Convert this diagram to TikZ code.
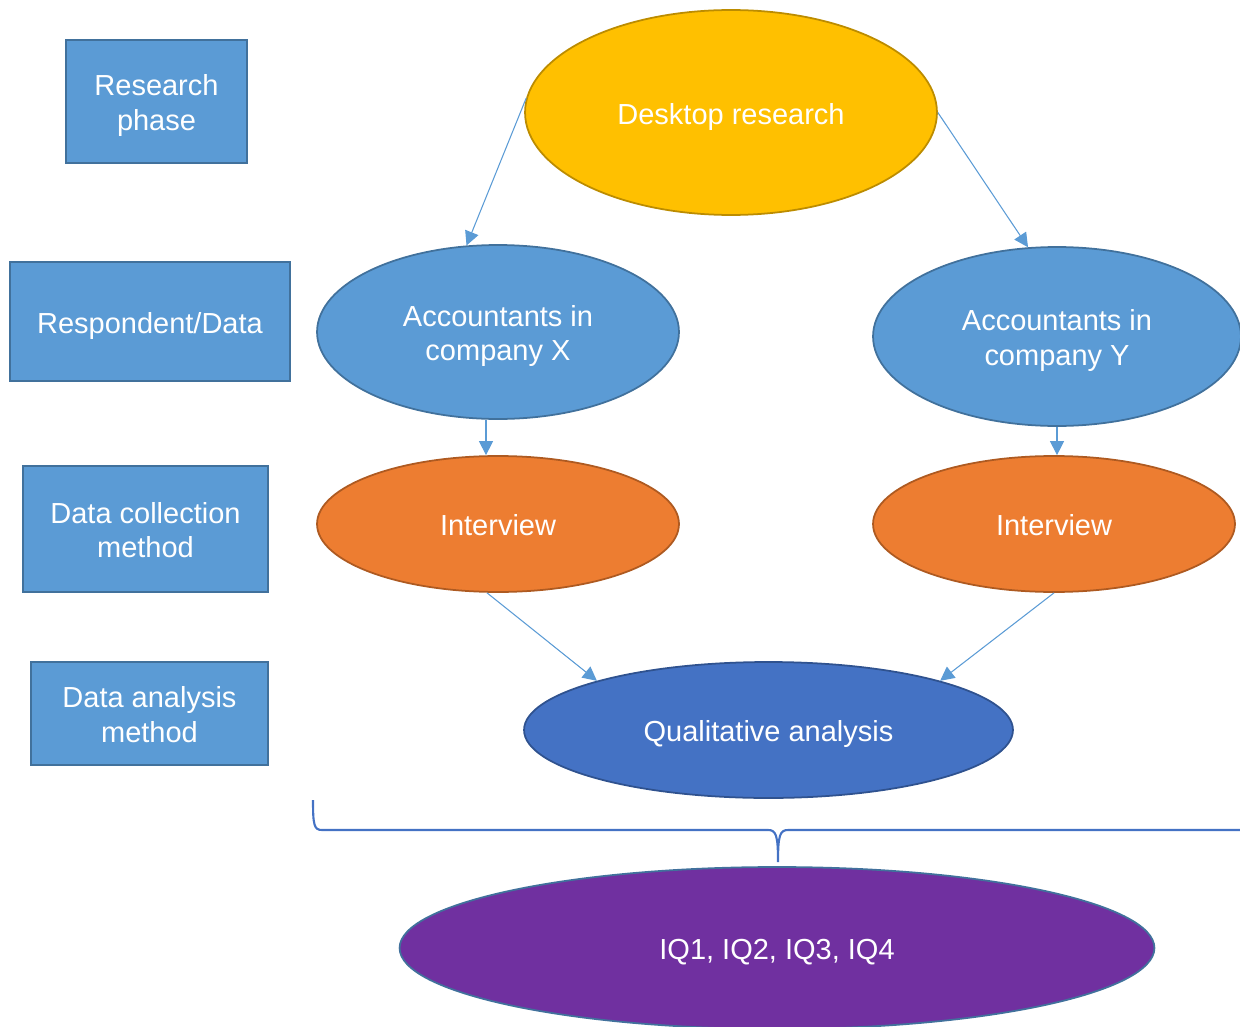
\documentclass[tikz,border=0pt]{standalone}
\usepackage{fontspec}
\setmainfont{Liberation Sans}
\usetikzlibrary{shapes.geometric,arrows.meta}
\definecolor{boxblue}{HTML}{5B9BD5}
\definecolor{boxedge}{HTML}{41719C}
\definecolor{deskfill}{HTML}{FFC000}
\definecolor{deskedge}{HTML}{BC8C00}
\definecolor{intfill}{HTML}{ED7D31}
\definecolor{intedge}{HTML}{AE5A21}
\definecolor{qualfill}{HTML}{4472C4}
\definecolor{qualedge}{HTML}{2F528F}
\definecolor{iqfill}{HTML}{7030A0}
% struts so that text sits as in the original slide
\newcommand{\topstrut}{\rule[-4pt]{0pt}{21.1pt}}
\newcommand{\botstrut}{\rule[-4pt]{0pt}{4pt}}
\begin{document}
\begin{tikzpicture}[x=0.02cm, y=-0.02cm,
  every node/.style={text=white, align=center, inner sep=0pt,
    font=\fontsize{16.5}{19.5}\selectfont},
  oneline/.style={execute at begin node={\rule[-4pt]{0pt}{21.6pt}}},
  phase/.style={rectangle, draw=boxedge, fill=boxblue, line width=1pt},
  blob/.style={ellipse, line width=1pt},
  flow/.style={boxblue, line width=0.6pt, -{Triangle[length=8pt,width=8pt]}}]
  \useasboundingbox (0, 0) rectangle (1240, 1027);
  % phase labels on the left
  \node [phase, minimum width=3.62cm, minimum height=2.46cm] (resph) at (156.5, 101.5) {\topstrut Research\\phase\botstrut};
  \node [phase, oneline, minimum width=5.6cm, minimum height=2.38cm] (respd) at (150, 321.5) {Respondent/Data};
  \node [phase, minimum width=4.9cm, minimum height=2.52cm] (colm) at (145.5, 529) {\topstrut Data collection\\method\botstrut};
  \node [phase, minimum width=4.74cm, minimum height=2.06cm] (anam) at (149.5, 713.5) {\topstrut Data analysis\\method\botstrut};
  % flow
  \node [blob, oneline, draw=deskedge, fill=deskfill, minimum width=8.24cm, minimum height=4.1cm] (desk) at (731, 112.5) {Desktop research};
  \node [blob, draw=boxedge, fill=boxblue, minimum width=7.24cm, minimum height=3.48cm] (accX) at (498, 332) {\topstrut Accountants in\\company X\botstrut};
  \node [blob, draw=boxedge, fill=boxblue, minimum width=7.36cm, minimum height=3.58cm] (accY) at (1057, 336.5) {\topstrut Accountants in\\company Y\botstrut};
  \node [blob, oneline, draw=intedge, fill=intfill, minimum width=7.24cm, minimum height=2.72cm] (intX) at (498, 524) {Interview};
  \node [blob, oneline, draw=intedge, fill=intfill, minimum width=7.24cm, minimum height=2.72cm] (intY) at (1054, 524) {Interview};
  \node [blob, oneline, draw=qualedge, fill=qualfill, minimum width=9.78cm, minimum height=2.72cm] (qual) at (768.5, 730) {Qualitative analysis};
  \node [blob, oneline, draw=boxedge, fill=iqfill, minimum width=15.1cm, minimum height=3.24cm] (iq) at (777, 948) {IQ1, IQ2, IQ3, IQ4};
  \draw [flow] (desk.176) -- (accX.110);
  \draw [flow] (desk.east) -- (accY.108);
  \draw [flow] ([xshift=-0.24cm]accX.south) -- ([xshift=-0.24cm]accX.south |- intX.north);
  \draw [flow] (accY.south) -- (accY.south |- intY.north);
  \draw [flow] ([xshift=-0.22cm]intX.south) -- (qual.164);
  \draw [flow] (intY.south) -- (qual.16);
  % brace
  \draw [qualfill, line width=1.2pt] (313, 800) .. controls (313, 825) and (314, 830) .. (322, 830)
    -- (768, 830) .. controls (776, 830) and (778, 835) .. (778, 862)
    .. controls (778, 835) and (780, 830) .. (788, 830) -- (1260, 830);
\end{tikzpicture}
\end{document}
